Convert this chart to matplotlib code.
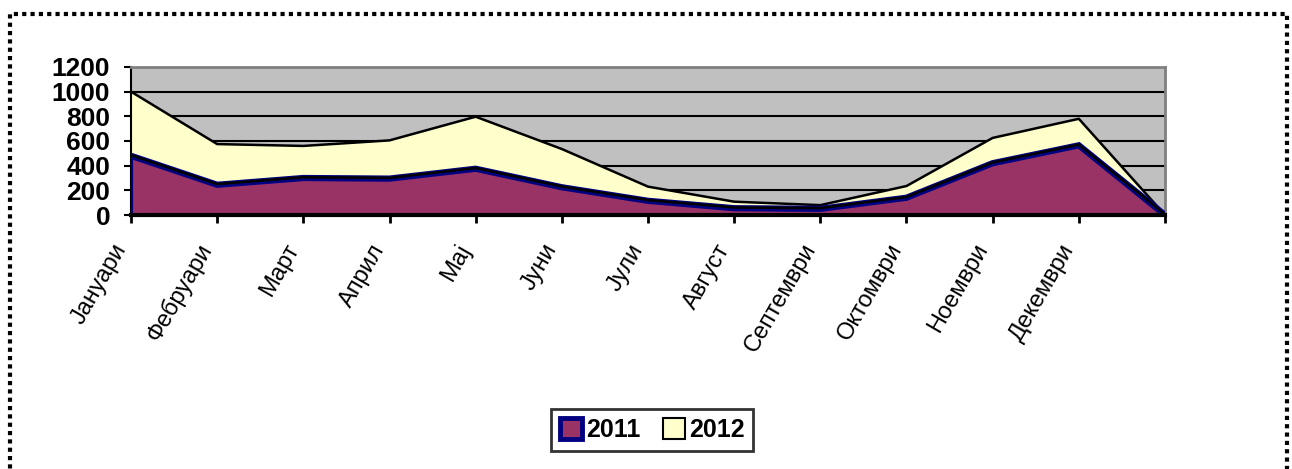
import matplotlib.pyplot as plt
from matplotlib.patches import Rectangle, Patch
import numpy as np

plt.rcParams['font.family'] = ['Liberation Sans', 'DejaVu Sans']

months = ["Јануари", "Фебруари", "Март", "Април", "Мај", "Јуни", "Јули",
          "Август", "Септември", "Октомври", "Ноември", "Декември", ""]
v2011 = [480, 245, 300, 295, 375, 225, 115, 55, 50, 140, 420, 565, 0]
v2012 = [520, 330, 260, 310, 422, 310, 115, 53, 30, 95, 205, 215, 0]

maroon = "#993366"
navy = "#000080"
cream = "#FFFFCC"

fig = plt.figure(figsize=(12.92, 4.69), dpi=100)
ax = fig.add_axes([131/1292, 1 - 215/469, (1165-131)/1292, (215-67)/469])
ax.set_facecolor("#C0C0C0")

x = np.arange(len(months))
top = np.array(v2011) + np.array(v2012)

# stacked areas
ax.fill_between(x, v2011, top, facecolor=cream, edgecolor="none", zorder=2)
ax.plot(x, top, color="black", lw=1.8, zorder=3)
ax.fill_between(x, 0, v2011, facecolor=maroon, edgecolor="none", zorder=4)
ax.plot(x, v2011, color=navy, lw=4.5, zorder=5, solid_joinstyle="miter")
ax.plot(x, np.array(v2011) + 6, color="black", lw=1.8, zorder=6)
ax.plot([0, 0], [0, v2011[0]], color=navy, lw=3, zorder=5)

ax.set_xlim(0, 12)
ax.set_ylim(0, 1200)
ax.set_yticks(range(0, 1201, 200))
ax.yaxis.grid(True, color="black", lw=1.5)
ax.set_axisbelow(True)

ax.set_xticks(x)
ax.set_xticklabels(months, rotation=60, ha="right", va="top", fontsize=17)
ax.tick_params(axis="x", length=6, width=2, color="black", pad=12)
ax.tick_params(axis="y", length=5, width=1.5, labelsize=19, pad=10)
for lbl in ax.get_yticklabels():
    lbl.set_fontweight("bold")

ax.spines["top"].set_color("#808080")
ax.spines["right"].set_color("#808080")
ax.spines["top"].set_linewidth(2)
ax.spines["right"].set_linewidth(2)
ax.spines["left"].set_linewidth(1.5)
ax.spines["bottom"].set_linewidth(3)
ax.spines["bottom"].set_linestyle((0, (1, 1)))
ax.spines["bottom"].set_zorder(7)

handles = [Patch(facecolor=maroon, edgecolor=navy, lw=3.5, label="2011"),
           Patch(facecolor=cream, edgecolor="black", lw=1.5, label="2012")]
leg = fig.legend(handles=handles, loc="center", bbox_to_anchor=(652/1292, 1 - 430/469),
                 ncol=2, frameon=True, fancybox=False, edgecolor="black",
                 prop={"size": 18, "weight": "bold"}, handlelength=0.9,
                 handleheight=0.9, handletextpad=0.15, columnspacing=0.9,
                 borderpad=0.35)
leg.get_frame().set_linewidth(2)

# dotted chart border
border = Rectangle((10/1292, -0.1), (1287-10)/1292, 1.1 - 14/469,
                   transform=fig.transFigure, fill=False, edgecolor="black",
                   lw=3, linestyle=(0, (1, 1)))
fig.patches.append(border)

fig.savefig("out.png", dpi=100)
